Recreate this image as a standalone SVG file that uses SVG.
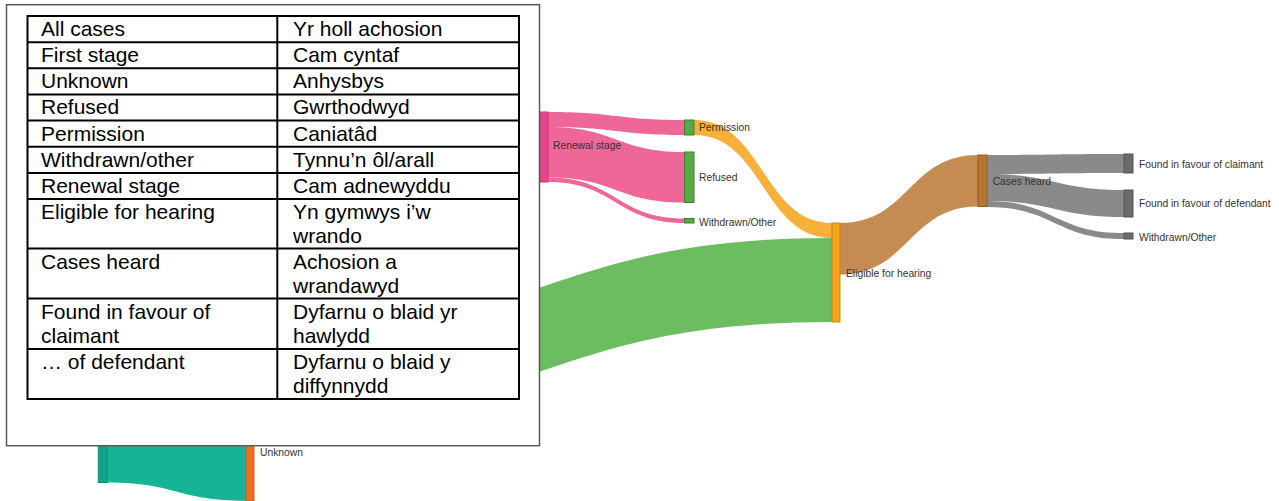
<svg xmlns="http://www.w3.org/2000/svg" width="1279" height="501" viewBox="0 0 1279 501">
<style>
.lbl{font-family:"Liberation Sans",Arial,sans-serif;font-size:10.3px;fill:#333;dominant-baseline:central}
.tt{font-family:"Liberation Sans",Arial,sans-serif;font-size:21px;fill:#000}
.pink{fill:#ef6699}
.orange{fill:#f6b03b}
.green{fill:#6bbd60}
.brown{fill:#c68b52}
.gray{fill:#8a8a8a}
.teal{fill:#16b394}
.ngreen{fill:#57ab45;stroke:#3e7e31;stroke-width:1}
.ngray{fill:#6b6b6b;stroke:#555;stroke-width:1}
.grid{stroke:#000;stroke-width:2;fill:none}
</style>
<rect width="1279" height="501" fill="#fff"/>
<g id="links">
  <path class="teal" d="M107.3,332 C176.6,332 176.6,350 246,350 L246,500.7 C176.6,500.7 176.6,482.5 107.3,482.5 Z"/>
  <path class="green" d="M254,335 C543,335 543,238 832,238 L832,322 C543,322 543,419 254,419 Z"/>
  <path class="pink" d="M548,112 C616,112 616,120 684.5,120 L684.5,135 C616,135 616,127 548,127 Z"/>
  <path class="pink" d="M548,127 C616,127 616,152 684.5,152 L684.5,202.5 C616,202.5 616,177.5 548,177.5 Z"/>
  <path class="pink" d="M548,177.5 C616,177.5 616,218.5 684.5,218.5 L684.5,223 C616,223 616,182 548,182 Z"/>
  <path class="orange" d="M694,120 C763,120 763,223 832,223 L832,238 C763,238 763,135 694,135 Z"/>
  <path class="brown" d="M840,223 C909,223 909,155 978,155 L978,206.5 C909,206.5 909,274.5 840,274.5 Z"/>
  <path class="gray" d="M987,155 C1055,155 1055,154 1124,154 L1124,173 C1055,173 1055,174 987,174 Z"/>
  <path class="gray" d="M987,174 C1055,174 1055,190 1124,190 L1124,217 C1055,217 1055,201 987,201 Z"/>
  <path class="gray" d="M987,201 C1055,201 1055,233 1124,233 L1124,239 C1055,239 1055,207 987,207 Z"/>
</g>
<g id="node-all-cases"><rect x="98.3" y="332" width="9" height="150.5" fill="#12a688" stroke="#0d8c72" stroke-width="1"/></g>
<g id="node-unknown"><rect x="246" y="350" width="8" height="150.7" fill="#ec6f26" stroke="#c95a1a" stroke-width="1"/><text class="lbl" x="260" y="452.5">Unknown</text></g>
<g id="node-renewal"><rect x="540" y="112" width="8" height="70" fill="#e5478a" stroke="#c93a74" stroke-width="1"/><text class="lbl" x="553" y="145">Renewal stage</text></g>
<g id="node-permission"><rect class="ngreen" x="684.5" y="120" width="9.5" height="15"/><text class="lbl" x="699" y="127.5">Permission</text></g>
<g id="node-refused"><rect class="ngreen" x="684.5" y="152" width="9.5" height="50.5"/><text class="lbl" x="699" y="177">Refused</text></g>
<g id="node-withdrawn1"><rect class="ngreen" x="684.5" y="218.5" width="9.5" height="4.5"/><text class="lbl" x="699" y="222">Withdrawn/Other</text></g>
<g id="node-eligible"><rect x="832" y="223" width="8" height="99" fill="#f5a31c" stroke="#c7861a" stroke-width="1"/><text class="lbl" x="846" y="273">Eligible for hearing</text></g>
<g id="node-cases-heard"><rect x="978" y="155" width="9" height="51.5" fill="#b87532" stroke="#8d5a25" stroke-width="1"/><text class="lbl" x="992.7" y="181.5">Cases heard</text></g>
<g id="node-claimant"><rect class="ngray" x="1124" y="154" width="9" height="19"/><text class="lbl" x="1139" y="164">Found in favour of claimant</text></g>
<g id="node-defendant"><rect class="ngray" x="1124" y="190" width="9" height="27"/><text class="lbl" x="1139" y="203.5">Found in favour of defendant</text></g>
<g id="node-withdrawn2"><rect class="ngray" x="1124" y="233" width="9" height="6"/><text class="lbl" x="1139" y="237">Withdrawn/Other</text></g>
<g id="legend">
  <rect x="6.5" y="4.7" width="533" height="441" fill="#fff" stroke="#595959" stroke-width="1.5"/>
  <rect class="grid" x="27.5" y="16" width="491.5" height="383"/>
  <line class="grid" x1="277.3" y1="16" x2="277.3" y2="399"/>
  <path class="grid" d="M27.5,42.2H519M27.5,68.3H519M27.5,94.5H519M27.5,120.6H519M27.5,146.8H519M27.5,172.9H519M27.5,199H519M27.5,248.5H519M27.5,298.5H519M27.5,349H519"/>
  <text class="tt" x="41" y="36">All cases</text>
  <text class="tt" x="293" y="36">Yr holl achosion</text>
  <text class="tt" x="41" y="62">First stage</text>
  <text class="tt" x="293" y="62">Cam cyntaf</text>
  <text class="tt" x="41" y="88.3">Unknown</text>
  <text class="tt" x="293" y="88.3">Anhysbys</text>
  <text class="tt" x="41" y="114.4">Refused</text>
  <text class="tt" x="293" y="114.4">Gwrthodwyd</text>
  <text class="tt" x="41" y="140.5">Permission</text>
  <text class="tt" x="293" y="140.5">Caniatâd</text>
  <text class="tt" x="41" y="166.7">Withdrawn/other</text>
  <text class="tt" x="293" y="166.7">Tynnu’n ôl/arall</text>
  <text class="tt" x="41" y="192.8">Renewal stage</text>
  <text class="tt" x="293" y="192.8">Cam adnewyddu</text>
  <text class="tt" x="41" y="219">Eligible for hearing</text>
  <text class="tt" x="293" y="219">Yn gymwys i’w</text>
  <text class="tt" x="293" y="243">wrando</text>
  <text class="tt" x="41" y="268.5">Cases heard</text>
  <text class="tt" x="293" y="268.5">Achosion a</text>
  <text class="tt" x="293" y="292.5">wrandawyd</text>
  <text class="tt" x="41" y="318.5">Found in favour of</text>
  <text class="tt" x="41" y="342.5">claimant</text>
  <text class="tt" x="293" y="318.5">Dyfarnu o blaid yr</text>
  <text class="tt" x="293" y="342.5">hawlydd</text>
  <text class="tt" x="41" y="369">… of defendant</text>
  <text class="tt" x="293" y="369">Dyfarnu o blaid y</text>
  <text class="tt" x="293" y="393">diffynnydd</text>
</g>
</svg>
